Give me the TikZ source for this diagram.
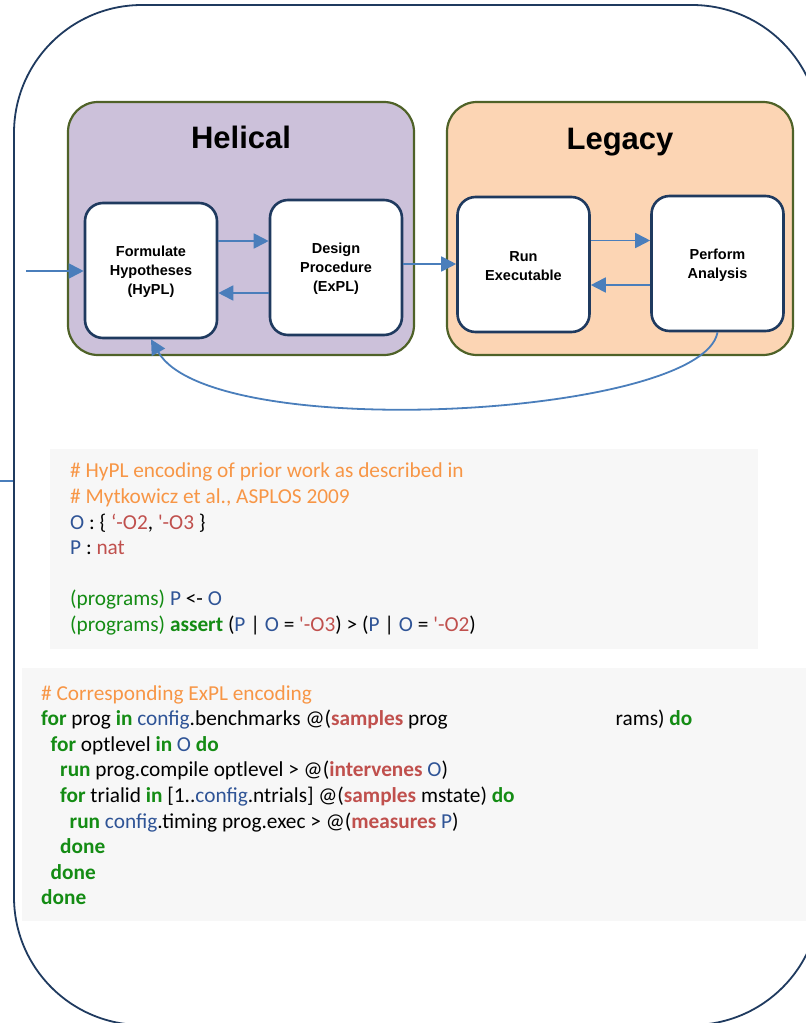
\documentclass[tikz,border=0pt]{standalone}
\usepackage{fontspec}
\setmainfont{Liberation Sans}
\newfontfamily\codefont{Carlito}
\usetikzlibrary{arrows.meta}
\definecolor{helicalfill}{HTML}{CCC1DA}
\definecolor{legacyfill}{HTML}{FCD5B4}
\definecolor{groupline}{HTML}{4F6228}
\definecolor{boxline}{HTML}{1F3A5F}
\definecolor{outerline}{HTML}{1F3A5F}
\definecolor{flowcol}{HTML}{4A7EBB}
\definecolor{codebg}{HTML}{F7F7F7}
\definecolor{cmtcol}{HTML}{F79646}
\definecolor{idcol}{HTML}{2F5496}
\definecolor{litcol}{HTML}{C0504D}
\definecolor{kwcol}{HTML}{148C14}
\newcommand{\cmt}[1]{\textcolor{cmtcol}{#1}}
\newcommand{\idn}[1]{\textcolor{idcol}{#1}}
\newcommand{\lit}[1]{\textcolor{litcol}{#1}}
\newcommand{\kwd}[1]{\textcolor{kwcol}{\bfseries #1}}
\newcommand{\kwn}[1]{\textcolor{kwcol}{#1}}
\newcommand{\lkw}[1]{\textcolor{litcol}{\bfseries #1}}
\tikzset{stage node/.style={rectangle,rounded corners=18pt,fill=white,draw=boxline,line width=2.6pt,
    minimum width=132pt,minimum height=135pt,inner sep=0pt,align=center,
    font=\fontsize{14.5}{19}\selectfont\bfseries},
}

\begin{document}
\begin{tikzpicture}[x=1pt,y=-1pt,>={Triangle[length=15pt,width=15pt]},
		outer frame/.style={rectangle,rounded corners=128pt,draw=outerline,line width=1.8pt,
			minimum width=806pt,minimum height=1020pt,inner sep=0pt},
		group node/.style={rectangle,rounded corners=30pt,draw=groupline,line width=2.2pt,
			minimum width=346pt,minimum height=253pt,inner sep=0pt},
		title/.style={anchor=base,font=\fontsize{31}{36}\selectfont\bfseries},
		flow/.style={->,draw=flowcol,line width=1.8pt},
		code box/.style={fill=codebg,inner sep=0pt,anchor=north west},
		code/.style={anchor=north west,align=left,inner sep=0pt,
			font=\codefont\fontsize{21.3}{25.6}\selectfont}]
		
		\useasboundingbox (0,0) rectangle (806,1023);
		\clip (0,0) rectangle (806,1023);
		
		\node[outer frame] (frame) at (417,515) {};
		
		\node[group node,fill=helicalfill] (helical) at (241,228.5) {};
		\node[group node,fill=legacyfill] (legacy) at (620,228.5) {};
		\node[title] (helicaltitle) at (241,148) {Helical};
		\node[title] (legacytitle) at (620,149) {Legacy};
		
		\node[stage node] (form) at (151,270.5) {\strut Formulate\\Hypotheses\\(HyPL)};
		\node[stage node] (design) at (336,267.5) {\strut Design\\Procedure\\(ExPL)};
		\node[stage node] (run) at (523.5,264.5) {\strut Run\\Executable};
		\node[stage node] (perform) at (717.5,263.5) {\strut Perform\\Analysis};
		
		\coordinate (entry) at (26,271);
		\coordinate (stub) at (0,481);
		\draw[flow] (entry) -- (entry -| form.west);
		\draw[flowcol,line width=1.8pt] (stub) -- (stub -| frame.west);
		\draw[flow] (form.east |- 0,241) -- (design.west |- 0,241);
		\draw[flow] (design.west |- 0,293) -- (form.east |- 0,293);
		\draw[flow] (design.east |- 0,264) -- (run.west |- 0,264);
		\draw[flow] (run.east |- 0,240.5) -- (perform.west |- 0,240.5);
		\draw[flow] (perform.west |- 0,285) -- (run.east |- 0,285);
		\draw[flow] (perform.south) .. controls +(-15,85) and +(60,105) .. (form.south);
		
		% code listings
		\node[code box,minimum width=708pt,minimum height=200pt] (hyplbox) at (50,449) {};
		\node[code box,minimum width=800pt,minimum height=253pt] (explbox) at (22,668) {};
		
		\node[code] (hyplcode) at (70,463) {\cmt{\# HyPL encoding of prior work as described in}\\
			\cmt{\# Mytkowicz et al., ASPLOS 2009}\\
			\idn{O} : \{ \lit{‘-O2}, \lit{\textquotesingle-O3} \}\\
			\idn{P} : \lit{nat}\\[25.6pt]
			\kwn{(programs)} \idn{P} <- \idn{O}\\
			\kwn{(programs)} \kwd{assert} (\idn{P} | \idn{O} = \lit{\textquotesingle-O3}) > (\idn{P} | \idn{O} = \lit{\textquotesingle-O2})};
		
		\node[code] (explcode) at (41,685) {\cmt{\# Corresponding ExPL encoding}\\
			\kwd{for} prog \kwd{in} \idn{config}.benchmarks @(\lkw{samples} prog\hspace*{168pt}rams) \kwd{do}\\
			\hspace*{9.5pt}\kwd{for} optlevel \kwd{in} \idn{O} \kwd{do}\\
			\hspace*{19pt}\kwd{run} prog.compile optlevel > @(\lkw{intervenes} \idn{O})\\
			\hspace*{19pt}\kwd{for} trialid \kwd{in} [1..\idn{config}.ntrials] @(\lkw{samples} mstate) \kwd{do}\\
			\hspace*{28.5pt}\kwd{run} \idn{config}.timing prog.exec > @(\lkw{measures} \idn{P})\\
			\hspace*{19pt}\kwd{done}\\
			\hspace*{9.5pt}\kwd{done}\\
			\kwd{done}};
		
\end{tikzpicture}
\end{document}
